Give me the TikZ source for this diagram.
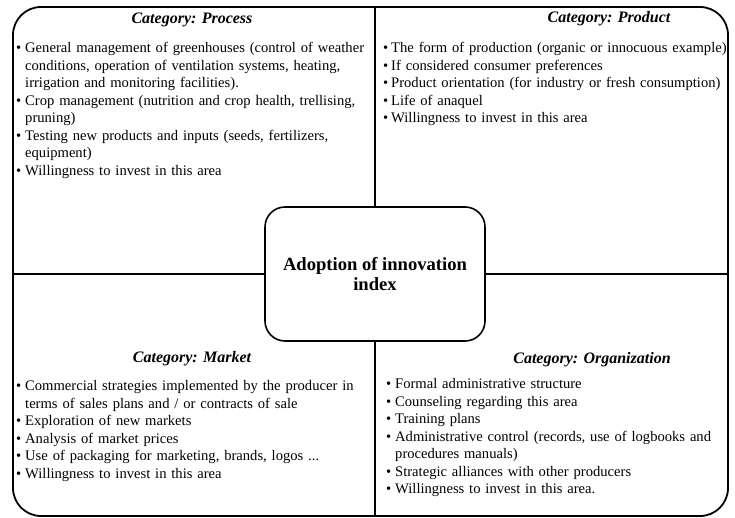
\documentclass[tikz,border=0pt]{standalone}
\usepackage{fontspec}
\setmainfont{Liberation Serif}
\newcommand\itm[1]{\par\hangindent=9pt\hangafter=1\noindent\hbox to 9pt{\textbullet\hss}\strut#1}
\newcommand\itmb[1]{\par\hangindent=8pt\hangafter=1\noindent\hbox to 8pt{\textbullet\hss}\strut#1}
\tikzset{
  frame/.style={draw, line width=1.8pt, rounded corners=28pt},
  divider/.style={draw, line width=1.6pt},
  hub/.style={draw, line width=1.6pt, rounded corners=20pt, fill=white,
    minimum width=220pt, minimum height=134pt, align=center,
    font=\bfseries\fontsize{18.6}{20.5}\selectfont},
  cattitle/.style={font=\bfseries\itshape\fontsize{16}{18}\selectfont, inner sep=0pt},
  panel/.style={anchor=north west, inner sep=0pt, text width=#1,
    font=\fontsize{14.6}{17.5}\selectfont},
}
\begin{document}
\begin{tikzpicture}[x=1pt,y=-1pt]
\useasboundingbox (0,0) rectangle (735,518);
\draw[frame] (13,7) rectangle (728,516);
\coordinate (T) at (375,7);
\coordinate (B) at (375,516);
\coordinate (L) at (13,274);
\coordinate (R) at (728,274);
\node[hub] (hub) at (375,274) {Adoption of innovation\\index};
\draw[divider] (T) -- (hub.north);
\draw[divider] (hub.south) -- (B);
\draw[divider] (L) -- (hub.west);
\draw[divider] (hub.east) -- (R);

\node[cattitle] (tproc) at (192,20) {Category: Process};
\node[panel=400pt] (proc) at (16,35) {\raggedright
\itm{General management of greenhouses (control of weather\newline conditions, operation of ventilation systems, heating,\newline irrigation and monitoring facilities).}
\itm{Crop management (nutrition and crop health, trellising,\newline pruning)}
\itm{Testing new products and inputs (seeds, fertilizers,\newline equipment)}
\itm{Willingness to invest in this area}\par};

\node[cattitle] (tprod) at (609,19) {Category: Product};
\node[panel=400pt] (prod) at (383,35) {\raggedright
\itmb{The form of production (organic or innocuous example)}
\itmb{If considered consumer preferences}
\itmb{Product orientation (for industry or fresh consumption)}
\itmb{Life of anaquel}
\itmb{Willingness to invest in this area}\par};

\node[cattitle] (tmark) at (192,359) {Category: Market};
\node[panel=400pt] (mark) at (16,373) {\raggedright
\itm{Commercial strategies implemented by the producer in\newline terms of sales plans and / or contracts of sale}
\itm{Exploration of new markets}
\itm{Analysis of market prices}
\itm{Use of packaging for marketing, brands, logos ...}
\itm{Willingness to invest in this area}\par};

\node[cattitle] (torg) at (592,360) {Category: Organization};
\node[panel=400pt] (org) at (386,371) {\raggedright
\itm{Formal administrative structure}
\itm{Counseling regarding this area}
\itm{Training plans}
\itm{Administrative control (records, use of logbooks and\newline procedures manuals)}
\itm{Strategic alliances with other producers}
\itm{Willingness to invest in this area.}\par};
\end{tikzpicture}
\end{document}
